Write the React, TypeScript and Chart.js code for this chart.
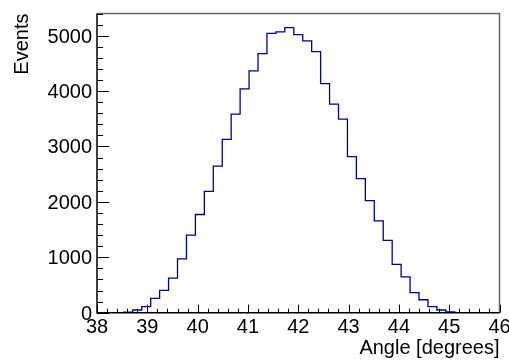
import React, { useEffect, useRef } from "react";
import { Chart, registerables } from "chart.js";

Chart.register(...registerables);

// Histogram definition: 45 bins from 38 to 46 degrees
const xMin = 38;
const xMax = 46;
const nBins = 45;
const counts = [
  0, 0, 2, 12, 49,
  108, 259, 403, 625, 972,
  1399, 1772, 2191, 2647, 3128,
  3583, 4040, 4364, 4676, 5041,
  5067, 5144, 5018, 4905, 4712,
  4136, 3763, 3493, 2816, 2420,
  2024, 1657, 1304, 871, 648,
  364, 234, 108, 49, 13,
  0, 0, 0, 0, 0,
];
const yMax = 5400;
const xMajorTicks = [38, 39, 40, 41, 42, 43, 44, 45, 46];
const xMinorStep = 0.2;
const yMajorTicks = [0, 1000, 2000, 3000, 4000, 5000];
const yMinorStep = 200;
const xTitle = "Angle [degrees]";
const yTitle = "Events";

const FONT = '"Liberation Sans", Arial, Helvetica, sans-serif';

const rootAxesPlugin = {
  id: "rootAxes",
  afterDraw(chart: any) {
    const ctx = chart.ctx as CanvasRenderingContext2D;
    const { left, right, top, bottom } = chart.chartArea;
    const xs = chart.scales.x;
    const ys = chart.scales.y;
    ctx.save();

    // frame top/right (gray), axes left/bottom (black)
    ctx.strokeStyle = "#666666";
    ctx.lineWidth = 1.5;
    ctx.beginPath();
    ctx.moveTo(left, top);
    ctx.lineTo(right, top);
    ctx.lineTo(right, bottom);
    ctx.stroke();

    ctx.strokeStyle = "#000000";
    ctx.lineWidth = 1.5;
    ctx.beginPath();
    ctx.moveTo(left, top);
    ctx.lineTo(left, bottom);
    ctx.lineTo(right, bottom);
    ctx.stroke();

    // x ticks
    ctx.lineWidth = 1;
    ctx.beginPath();
    const nxMinor = Math.round((xMax - xMin) / xMinorStep);
    for (let i = 0; i <= nxMinor; i++) {
      const v = xMin + i * xMinorStep;
      const px = Math.round(xs.getPixelForValue(v)) + 0.5;
      const isMajor = Math.abs(v - Math.round(v)) < 1e-6;
      const len = isMajor ? 8 : 4;
      ctx.moveTo(px, bottom);
      ctx.lineTo(px, bottom - len);
    }
    // y ticks
    for (let v = 0; v <= yMax + 1e-6; v += yMinorStep) {
      const py = Math.round(ys.getPixelForValue(v)) + 0.5;
      const isMajor = v % 1000 === 0;
      const len = isMajor ? 12 : 6;
      ctx.moveTo(left, py);
      ctx.lineTo(left + len, py);
    }
    ctx.stroke();

    // labels
    ctx.fillStyle = "#000000";
    ctx.font = `20px ${FONT}`;
    ctx.textAlign = "center";
    ctx.textBaseline = "alphabetic";
    for (const v of xMajorTicks) {
      ctx.fillText(String(v), xs.getPixelForValue(v), bottom + 20.5);
    }
    ctx.textAlign = "right";
    for (const v of yMajorTicks) {
      ctx.fillText(String(v), left - 5, ys.getPixelForValue(v) + 7);
    }

    // titles
    ctx.textAlign = "right";
    ctx.fillText(xTitle, right, 354);
    ctx.save();
    ctx.translate(27.5, top);
    ctx.rotate(-Math.PI / 2);
    ctx.textAlign = "right";
    ctx.fillText(yTitle, 0, 0);
    ctx.restore();

    ctx.restore();
  },
};

export default function App() {
  const ref = useRef<HTMLCanvasElement | null>(null);
  useEffect(() => {
    if (!ref.current) return;
    const binW = (xMax - xMin) / nBins;
    const pts = counts.map((c, i) => ({ x: xMin + i * binW, y: c }));
    pts.push({ x: xMax, y: counts[counts.length - 1] });
    const chart = new Chart(ref.current, {
      type: "line",
      data: {
        datasets: [
          {
            data: pts,
            stepped: "before" as any,
            borderColor: "#00009c",
            borderWidth: 1.3,
            pointRadius: 0,
            fill: false,
          },
        ],
      },
      options: {
        animation: false,
        responsive: false,
        devicePixelRatio: 1,
        layout: { padding: { left: 97, right: 9.5, top: 13.5, bottom: 47.3 } },
        plugins: { legend: { display: false }, tooltip: { enabled: false } },
        scales: {
          x: { type: "linear", min: xMin, max: xMax, display: false },
          y: { type: "linear", min: 0, max: yMax, display: false },
        },
      },
      plugins: [rootAxesPlugin],
    });
    return () => chart.destroy();
  }, []);
  return (
    <div style={{ position: "fixed", left: 0, top: 0, width: 509, height: 360, background: "#fff" }}>
      <canvas ref={ref} width={509} height={360} style={{ width: 509, height: 360 }} />
    </div>
  );
}
